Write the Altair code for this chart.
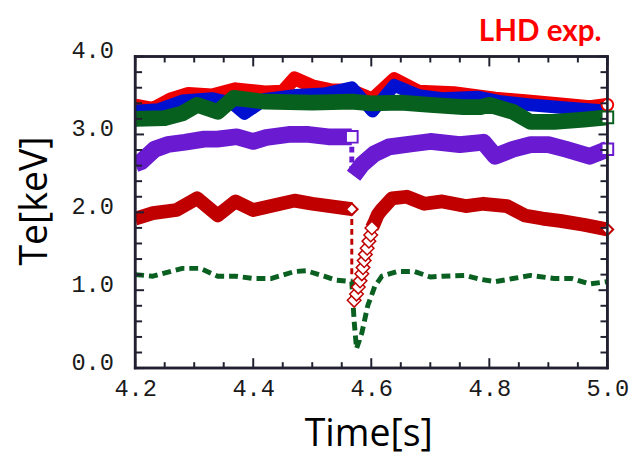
import altair as alt
import pandas as pd

# ---------------- data ----------------
red_t = [4.20, 4.23, 4.26, 4.29, 4.33, 4.37, 4.42, 4.45, 4.47, 4.50, 4.53, 4.567, 4.602, 4.639, 4.68, 4.74, 4.81, 4.87, 4.93, 4.97, 5.00]
red_v = [3.37, 3.33, 3.45, 3.52, 3.50, 3.58, 3.54, 3.55, 3.72, 3.62, 3.57, 3.56, 3.45, 3.71, 3.55, 3.53, 3.46, 3.42, 3.38, 3.35, 3.38]

blue_t = [4.20, 4.24, 4.28, 4.33, 4.365, 4.385, 4.42, 4.47, 4.52, 4.567, 4.602, 4.639, 4.68, 4.72, 4.78, 4.82, 4.87, 4.93, 5.00]
blue_v = [3.30, 3.32, 3.43, 3.46, 3.40, 3.27, 3.45, 3.50, 3.52, 3.60, 3.30, 3.63, 3.50, 3.46, 3.48, 3.42, 3.38, 3.34, 3.30]

green_t = [4.20, 4.25, 4.28, 4.305, 4.34, 4.367, 4.42, 4.50, 4.567, 4.60, 4.65, 4.70, 4.756, 4.785, 4.80, 4.84, 4.87, 4.91, 4.96, 5.00]
green_v = [3.20, 3.21, 3.27, 3.38, 3.29, 3.47, 3.42, 3.41, 3.42, 3.40, 3.41, 3.38, 3.35, 3.35, 3.38, 3.29, 3.16, 3.16, 3.19, 3.22]

purple1_t = [4.20, 4.21, 4.233, 4.255, 4.284, 4.317, 4.339, 4.372, 4.40, 4.422, 4.46, 4.494, 4.527, 4.567]
purple1_v = [2.62, 2.65, 2.81, 2.87, 2.90, 2.94, 2.94, 2.97, 2.91, 2.96, 3.00, 3.00, 2.97, 2.97]
purple_gap_t = [4.567, 4.567]
purple_gap_v = [2.97, 2.50]
purple2_t = [4.570, 4.585, 4.605, 4.63, 4.67, 4.70, 4.75, 4.79, 4.81, 4.84, 4.87, 4.90, 4.93, 4.97, 5.00]
purple2_v = [2.47, 2.62, 2.75, 2.84, 2.88, 2.91, 2.87, 2.90, 2.72, 2.81, 2.87, 2.87, 2.81, 2.72, 2.81]

dred1_t = [4.20, 4.23, 4.27, 4.305, 4.34, 4.37, 4.40, 4.47, 4.50, 4.567]
dred1_v = [1.92, 1.99, 2.03, 2.18, 1.96, 2.14, 2.03, 2.15, 2.11, 2.04]
dred_gap_t = [4.567, 4.567]
dred_gap_v = [2.04, 1.15]
dred_rec_t = [4.571, 4.575, 4.578, 4.581, 4.584, 4.586, 4.588, 4.590, 4.593, 4.596, 4.599, 4.601]
dred_rec_v = [0.87, 0.95, 1.04, 1.12, 1.21, 1.29, 1.38, 1.46, 1.54, 1.63, 1.71, 1.80]
dred2_t = [4.601, 4.606, 4.611, 4.617, 4.635, 4.66, 4.69, 4.72, 4.76, 4.79, 4.83, 4.86, 4.89, 4.92, 4.96, 5.00]
dred2_v = [1.80, 1.88, 1.97, 2.03, 2.18, 2.20, 2.11, 2.14, 2.08, 2.11, 2.08, 1.96, 1.92, 1.89, 1.84, 1.78]

gdash_t = [4.20, 4.23, 4.28, 4.31, 4.34, 4.37, 4.40, 4.43, 4.47, 4.49, 4.52, 4.54, 4.567, 4.571, 4.575, 4.584, 4.594, 4.606, 4.618, 4.644, 4.673, 4.70, 4.72, 4.76, 4.785, 4.81, 4.84, 4.87, 4.91, 4.94, 4.97, 5.00]
gdash_v = [1.20, 1.18, 1.28, 1.28, 1.18, 1.18, 1.15, 1.15, 1.24, 1.25, 1.18, 1.13, 1.11, 0.60, 0.25, 0.45, 0.80, 1.05, 1.18, 1.24, 1.24, 1.17, 1.18, 1.19, 1.14, 1.11, 1.15, 1.19, 1.15, 1.15, 1.08, 1.11]

x_major = [4.2, 4.4, 4.6, 4.8, 5.0]
x_minor = [4.25, 4.3, 4.35, 4.45, 4.5, 4.55, 4.65, 4.7, 4.75, 4.85, 4.9, 4.95]
y_major = [0.0, 1.0, 2.0, 3.0, 4.0]
y_minor = [0.2, 0.4, 0.6, 0.8, 1.2, 1.4, 1.6, 1.8, 2.2, 2.4, 2.6, 2.8, 3.2, 3.4, 3.6, 3.8]
x_range = [4.2, 5.0]
y_range = [0.0, 4.0]

# ---------------- chart ----------------
W, H = 479, 316
LABEL_FONT = "Liberation Mono"
TITLE_FONT = "Open Sans"
INK = "#1a1a1a"
FRAME = "#202030"
SX = (x_range[1] - x_range[0]) / W   # data units per pixel
SY = (y_range[1] - y_range[0]) / H

xscale = alt.Scale(domain=x_range, nice=False, zero=False)
yscale = alt.Scale(domain=y_range, nice=False, zero=False)

X = alt.X("t:Q", scale=xscale, axis=alt.Axis(
    values=x_major, format=".1f", ticks=False, grid=False, labelFlush=False, domain=False,
    labelFont=LABEL_FONT, labelFontSize=24, labelColor=INK, labelPadding=9,
    title="Time[s]", titleFont=TITLE_FONT, titleFontSize=38, titleFontWeight="normal",
    titleColor="black", titleX=W / 2 - 3, titleY=68, titleBaseline="middle", titleAlign="center"))
Y = alt.Y("v:Q", scale=yscale, axis=alt.Axis(
    values=y_major, format=".1f", ticks=False, grid=False, labelFlush=False, domain=False,
    labelFont=LABEL_FONT, labelFontSize=24, labelColor=INK, labelPadding=22, labelOffset=-6,
    title="Te[keV]", titleFont=TITLE_FONT, titleFontSize=38, titleFontWeight="normal",
    titleColor="black", titleX=-101, titleY=146, titleBaseline="middle", titleAlign="center"))
X2 = alt.X2("t2:Q")
Y2 = alt.Y2("v2:Q")


def df(t, v):
    return pd.DataFrame({"t": t, "v": v})


def line(t, v, color, width, dash=None):
    kw = dict(color=color, strokeWidth=width, strokeJoin="round", strokeCap="butt", clip=True)
    if dash:
        kw["strokeDash"] = dash
    return alt.Chart(df(t, v)).mark_line(**kw).encode(x=X, y=Y)


def marker(t, v, color, shape, size=140, sw=2):
    return alt.Chart(df(t, v)).mark_point(
        shape=shape, size=size, filled=True, fill="white", stroke=color, strokeWidth=sw, opacity=1
    ).encode(x=X, y=Y)


RED = "#ee0000"
BLUE = "#0010d0"
GREEN = "#08601e"
PURPLE = "#6a1ad0"
DRED = "#c00000"
GDASH = "#0a6020"

layers = [
    line(red_t, red_v, RED, 14),
    line(blue_t, blue_v, BLUE, 13),
    line(green_t, green_v, GREEN, 16),
    marker([red_t[-1]], [red_v[-1]], RED, "circle"),
    marker([green_t[-1]], [green_v[-1]], GREEN, "square"),
    line(purple_gap_t, purple_gap_v, PURPLE, 5, [6, 4]),
    line(purple1_t, purple1_v, PURPLE, 17),
    line(purple2_t, purple2_v, PURPLE, 17),
    marker([purple1_t[-1]], [purple1_v[-1]], PURPLE, "square"),
    marker([purple2_t[-1]], [purple2_v[-1]], PURPLE, "square"),
    line(gdash_t, gdash_v, GDASH, 5, [9, 5]),
    line(dred_gap_t, dred_gap_v, DRED, 3, [6, 4]),
    line(dred1_t, dred1_v, DRED, 14),
    line(dred2_t, dred2_v, DRED, 14),
    marker(dred_rec_t, dred_rec_v, DRED, "diamond", size=190, sw=1.5),
    marker([dred1_t[-1]], [dred1_v[-1]], DRED, "diamond"),
    marker([dred2_t[-1]], [dred2_v[-1]], DRED, "diamond"),
]

# frame and inward ticks as thin filled rectangles (in data space, through the scales)
rects = []
hw = 1.3  # half frame width, px
x0, x1 = x_range
y0, y1 = y_range
rects += [
    (x0 - hw * SX, x0 + hw * SX, y0 - hw * SY, y1 + hw * SY),
    (x1 - hw * SX, x1 + hw * SX, y0 - hw * SY, y1 + hw * SY),
    (x0 - hw * SX, x1 + hw * SX, y0 - hw * SY, y0 + hw * SY),
    (x0 - hw * SX, x1 + hw * SX, y1 - hw * SY, y1 + hw * SY),
]
tw = 1.0  # half tick width, px
for t in x_major:
    rects += [(t - tw * SX, t + tw * SX, y0, y0 + 10 * SY), (t - tw * SX, t + tw * SX, y1 - 10 * SY, y1)]
for t in x_minor:
    rects += [(t - tw * SX, t + tw * SX, y0, y0 + 6 * SY), (t - tw * SX, t + tw * SX, y1 - 6 * SY, y1)]
for v in y_major:
    rects += [(x0, x0 + 9 * SX, v - tw * SY, v + tw * SY), (x1 - 9 * SX, x1, v - tw * SY, v + tw * SY)]
for v in y_minor:
    rects += [(x0, x0 + 7 * SX, v - tw * SY, v + tw * SY), (x1 - 7 * SX, x1, v - tw * SY, v + tw * SY)]
frame_df = pd.DataFrame(rects, columns=["t", "t2", "v", "v2"])
layers.append(
    alt.Chart(frame_df).mark_rect(color=FRAME, fill=FRAME, fillOpacity=1, opacity=1).encode(
        x=X, x2=X2, y=Y, y2=Y2)
)

label = pd.DataFrame({"text": ["LHD exp."]})
layers.append(
    alt.Chart(label).mark_text(
        font="Lato", fontSize=30, fontWeight="bold", color="#ff0000",
        align="right", baseline="alphabetic"
    ).encode(text="text:N", x=alt.value(473), y=alt.value(-16))
)

chart = alt.layer(*layers).properties(
    width=W, height=H,
    padding={"left": 8, "top": 6, "right": 5, "bottom": 5},
).configure_view(stroke=FRAME, strokeWidth=2.5)

chart.save("out.html", embed_options={"renderer": "svg", "actions": False})
